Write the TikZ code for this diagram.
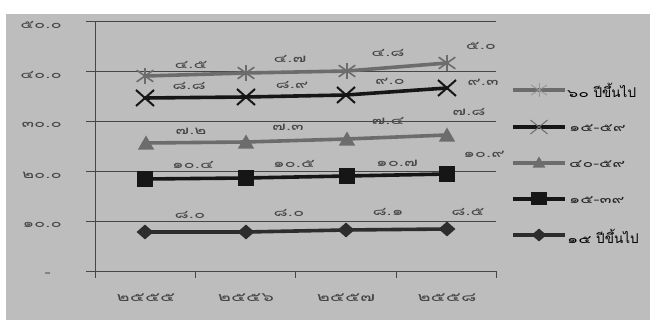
\documentclass[tikz,border=0pt]{standalone}
\usepackage{fontspec}
\usetikzlibrary{shapes.geometric,shapes.misc}
\newfontfamily\thaiw[Script=Thai,FakeStretch=1.6]{Loma}
\newfontfamily\thai[Script=Thai]{Loma}
\definecolor{bgc}{RGB}{189,189,189}
\definecolor{gridc}{RGB}{70,70,70}
\definecolor{greyser}{RGB}{108,108,108}
\definecolor{blackser}{RGB}{22,22,22}
\definecolor{darkser}{RGB}{45,45,45}
\definecolor{labc}{RGB}{70,70,70}
\definecolor{legmark}{RGB}{150,150,150}
\tikzset{
  lab/.style={font=\thaiw\fontsize{11.5}{12}\selectfont, text=labc, inner sep=0pt},
  ylab/.style={font=\thaiw\fontsize{11.5}{12}\selectfont, text=labc, inner sep=0pt, anchor=east},
  xlab/.style={font=\thaiw\fontsize{12.5}{13}\selectfont, text=labc, inner sep=0pt},
  legtext/.style={font=\thaiw\fontsize{11}{12}\selectfont, text=black!85, inner sep=0pt, anchor=west},
  legbig/.style={font=\thai\fontsize{13.5}{14}\selectfont, text=black, inner sep=0pt, anchor=west},
  gridline/.style={draw=gridc, line width=0.8pt},
  serline/.style={line width=3.6pt, line cap=round},
  legline/.style={line width=3.6pt},
  mkast/.style={cross out, draw=greyser, line width=1.6pt, minimum width=15pt, minimum height=10pt, inner sep=0pt},
  mkx/.style={cross out, draw=blackser, line width=2pt, minimum width=16pt, minimum height=14pt, inner sep=0pt},
  mktri/.style={regular polygon, regular polygon sides=3, fill=greyser, minimum size=19pt, inner sep=0pt},
  mksq/.style={rectangle, fill=blackser, minimum size=16pt, inner sep=0pt},
  mkdia/.style={diamond, fill=darkser, minimum width=17pt, minimum height=15pt, inner sep=0pt},
}
\begin{document}
\begin{tikzpicture}[x=1pt,y=-1pt]
\useasboundingbox (0,0) rectangle (650,320);
\fill[white] (0,0) rectangle (650,320);
\fill[bgc] (6,14) rectangle (650,320);
% grid
\foreach \yy/\nm in {21/g50,71/g40,121/g30,171/g20,221/g10}{
  \coordinate (\nm l) at (86,\yy); \coordinate (\nm r) at (496,\yy);
  \draw[gridline] (\nm l) -- (\nm r);
}
\coordinate (xal) at (86,271); \coordinate (xar) at (496,271);
\draw[gridline] (xal) -- (xar);
\coordinate (yat) at (95,21); \coordinate (yab) at (95,278);
\draw[gridline] (yat) -- (yab);
\foreach \xx/\nm in {195/t1,295/t2,396/t3,496/t4}{
  \coordinate (\nm a) at (\xx,271); \coordinate (\nm b) at (\xx,278);
  \draw[gridline] (\nm a) -- (\nm b);
}
% y labels
\node[ylab] (y50) at (62,25) {๕๐.๐};
\node[ylab] (y40) at (62,75) {๔๐.๐};
\node[ylab] (y30) at (62,125) {๓๐.๐};
\node[ylab] (y20) at (62,175) {๒๐.๐};
\node[ylab] (y10) at (62,225) {๑๐.๐};
\node[ylab] (y0) at (51,275) {-};
% x labels
\node[xlab] (x1) at (146,298) {๒๕๕๕};
\node[xlab] (x2) at (246,298) {๒๕๕๖};
\node[xlab] (x3) at (346,298) {๒๕๕๗};
\node[xlab] (x4) at (447,298) {๒๕๕๘};
% data coordinates
\coordinate (a1) at (145,76); \coordinate (a2) at (246,73); \coordinate (a3) at (347,71); \coordinate (a4) at (447,63);
\coordinate (b1) at (145,98); \coordinate (b2) at (246,97); \coordinate (b3) at (346,95); \coordinate (b4) at (447,88);
\coordinate (c1) at (146,143); \coordinate (c2) at (246,142); \coordinate (c3) at (347,139); \coordinate (c4) at (447,135);
\coordinate (d1) at (145,179); \coordinate (d2) at (246,178); \coordinate (d3) at (347,176); \coordinate (d4) at (447,174);
\coordinate (e1) at (145,232); \coordinate (e2) at (246,232); \coordinate (e3) at (346,230); \coordinate (e4) at (447,229);
% lines
\draw[serline, greyser] (a1) -- (a2) -- (a3) -- (a4);
\draw[serline, blackser] (b1) -- (b2) -- (b3) -- (b4);
\draw[serline, greyser] (c1) -- (c2) -- (c3) -- (c4);
\draw[serline, blackser] (d1) -- (d2) -- (d3) -- (d4);
\draw[serline, darkser] (e1) -- (e2) -- (e3) -- (e4);
% markers
\foreach \p in {a1,a2,a3,a4}{
  \node[mkast] (m\p) at (\p) {};
  \draw[greyser, line width=1.6pt] ([yshift=-8pt]\p) -- ([yshift=8pt]\p);
}
\foreach \p in {b1,b2,b3,b4}{ \node[mkx] (m\p) at (\p) {}; }
\foreach \p in {c1,c2,c3,c4}{ \node[mktri] (m\p) at ([yshift=-2pt]\p) {}; }
\foreach \p in {d1,d2,d3,d4}{ \node[mksq] (m\p) at (\p) {}; }
\foreach \p in {e1,e2,e3,e4}{ \node[mkdia] (m\p) at (\p) {}; }
% data labels
\node[lab] (la1) at (191,65) {๔.๕};
\node[lab] (la2) at (290,59) {๔.๗};
\node[lab] (la3) at (388,53) {๔.๘};
\node[lab] (la4) at (481,46) {๕.๐};
\node[lab] (lb1) at (189,86) {๘.๘};
\node[lab] (lb2) at (292,85) {๘.๙};
\node[lab] (lb3) at (390,81) {๙.๐};
\node[lab] (lb4) at (483,82) {๙.๓};
\node[lab] (lc1) at (191,131) {๗.๒};
\node[lab] (lc2) at (288,127) {๗.๓};
\node[lab] (lc3) at (388,121) {๗.๔};
\node[lab] (lc4) at (469,112) {๗.๘};
\node[lab] (ld1) at (193,165) {๑๐.๔};
\node[lab] (ld2) at (294,164) {๑๐.๕};
\node[lab] (ld3) at (397,163) {๑๐.๗};
\node[lab] (ld4) at (484,154) {๑๐.๙};
\node[lab] (le1) at (190,215) {๘.๐};
\node[lab] (le2) at (289,213) {๘.๐};
\node[lab] (le3) at (388,212) {๘.๑};
\node[lab] (le4) at (468,212) {๘.๕};
% legend
\foreach \nm/\yy in {ka/90,kb/127,kc/163,kd/199,ke/235}{
  \coordinate (\nm l) at (513,\yy); \coordinate (\nm m) at (539,\yy); \coordinate (\nm r) at (565,\yy);
}
\draw[legline, greyser] (kal) -- (kar);
\node[cross out, draw=legmark, line width=0.9pt, minimum width=15pt, minimum height=9pt, inner sep=0pt] (mka) at (kam) {};
\draw[legmark, line width=0.9pt] ([yshift=-7pt]kam) -- ([yshift=7pt]kam);
\draw[legline, blackser] (kbl) -- (kbr);
\node[cross out, draw=greyser, line width=1pt, minimum width=16pt, minimum height=13pt, inner sep=0pt] (mkb) at (kbm) {};
\draw[legline, greyser] (kcl) -- (kcr);
\node[mktri, minimum size=15pt] (mkc) at ([yshift=-1pt]kcm) {};
\draw[legline, blackser] (kdl) -- (kdr);
\node[mksq, minimum width=16pt, minimum height=13pt] (mkd) at (kdm) {};
\draw[legline, darkser] (kel) -- (ker);
\node[mkdia, minimum width=15pt, minimum height=13pt] (mke) at (kem) {};
\node[legbig] (ta) at (567,90) {{\thaiw\fontsize{11}{12}\selectfont ๖๐} ปีขึ้นไป};
\node[legtext] (tb) at (569,128) {๑๕-๕๙};
\node[legtext] (tc) at (569,164) {๔๐-๕๙};
\node[legtext] (td) at (569,200) {๑๕-๓๙};
\node[legbig] (te) at (567,236) {{\thaiw\fontsize{11}{12}\selectfont ๑๕} ปีขึ้นไป};
\end{tikzpicture}
\end{document}
